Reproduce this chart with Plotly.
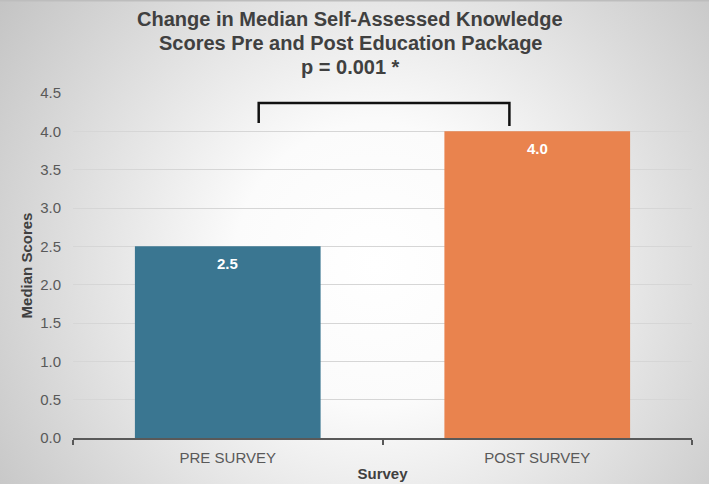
import base64
import plotly.graph_objects as go

# ---- data ----
categories = ["PRE SURVEY", "POST SURVEY"]
median_scores = [2.5, 4.0]
value_labels = ["2.5", "4.0"]
bar_colors = ["#3a7691", "#e9834e"]
y_ticks = [0.0, 0.5, 1.0, 1.5, 2.0, 2.5, 3.0, 3.5, 4.0, 4.5]
y_tick_labels = ["0.0", "0.5", "1.0", "1.5", "2.0", "2.5", "3.0", "3.5", "4.0", "4.5"]
title_lines = ["Change in Median Self-Assessed Knowledge",
               "Scores Pre and Post Education Package",
               "p = 0.001 *"]
x_title = "Survey"
y_title = "Median Scores"

# significance bracket (data coords)
bracket_x = [0.1, 0.91]
bracket_top = 4.37
bracket_left_bottom = 4.11
bracket_right_bottom = 4.07

W, H = 709, 484
ML, MR, MT, MB = 73, 17, 93, 46
PW, PH = W - ML - MR, H - MT - MB

svg = f'''<svg xmlns="http://www.w3.org/2000/svg" width="{W}" height="{H}" viewBox="0 0 {W} {H}">
<defs><radialGradient id="g" gradientUnits="userSpaceOnUse" cx="375" cy="265" r="470">
<stop offset="0" stop-color="#ffffff"/><stop offset="0.3" stop-color="#fbfbfb"/>
<stop offset="1" stop-color="#c2c2c2"/></radialGradient></defs>
<rect width="{W}" height="{H}" fill="url(#g)"/>
<rect x="0" y="0" width="{W}" height="1.5" fill="#bdbdbd"/>
</svg>'''
bg_uri = "data:image/svg+xml;base64," + base64.b64encode(svg.encode()).decode()

fig = go.Figure()
fig.add_trace(go.Bar(
    x=categories, y=median_scores, marker=dict(color=bar_colors, line=dict(width=0)),
    width=0.6, hoverinfo="skip"))

for c, v, t in zip(categories, median_scores, value_labels):
    fig.add_annotation(x=c, y=v, text=f"<b>{t}</b>", showarrow=False,
                       yanchor="middle", yshift=-17,
                       font=dict(family="Liberation Sans, Arial", size=15, color="#ffffff"))

# title lines as separate annotations (container pixel positions)
for i, line in enumerate(title_lines):
    fig.add_annotation(xref="paper", yref="paper",
                       x=(350 - ML) / PW, y=1 + (MT - (19 + 24 * i)) / PH,
                       xanchor="center", yanchor="middle", showarrow=False,
                       text=f"<b>{line}</b>",
                       font=dict(family="Liberation Sans, Arial", size=20, color="#404040"))

fig.add_shape(type="path", xref="x", yref="y",
              path=(f"M {bracket_x[0]} {bracket_left_bottom} L {bracket_x[0]} {bracket_top} "
                    f"L {bracket_x[1]} {bracket_top} L {bracket_x[1]} {bracket_right_bottom}"),
              line=dict(color="#111111", width=2.5))

fig.add_layout_image(dict(source=bg_uri, xref="paper", yref="paper",
                          x=-ML / PW, y=1 + MT / PH, sizex=W / PW, sizey=H / PH,
                          xanchor="left", yanchor="top", sizing="stretch", layer="below"))

fig.update_layout(
    width=W, height=H,
    margin=dict(l=ML, r=MR, t=MT, b=MB),
    paper_bgcolor="rgba(0,0,0,0)", plot_bgcolor="rgba(0,0,0,0)",
    showlegend=False, bargap=0.4,
    font=dict(family="Liberation Sans, Arial", color="#595959"),
    xaxis=dict(type="category", range=[-0.5, 1.5], showline=True, linecolor="#595959",
               linewidth=2, ticks="outside", tickson="boundaries", ticklen=5,
               tickcolor="#595959", tickwidth=2, showgrid=False, ticklabelstandoff=5,
               automargin=False,
               tickfont=dict(size=15, color="#595959"),
               title=dict(text=f"<b>{x_title}</b>", standoff=3,
                          font=dict(size=15, color="#404040"))),
    yaxis=dict(range=[0, 4.5], tickvals=y_ticks, ticktext=y_tick_labels,
               showgrid=True, gridcolor="#d6d6d6", gridwidth=1, zeroline=False,
               showline=False, ticks="", ticklabelstandoff=11, automargin=False,
               tickfont=dict(size=15, color="#595959"),
               title=dict(text=f"<b>{y_title}</b>", standoff=3,
                          font=dict(size=15, color="#404040"))),
)

fig.write_html("out.html")
